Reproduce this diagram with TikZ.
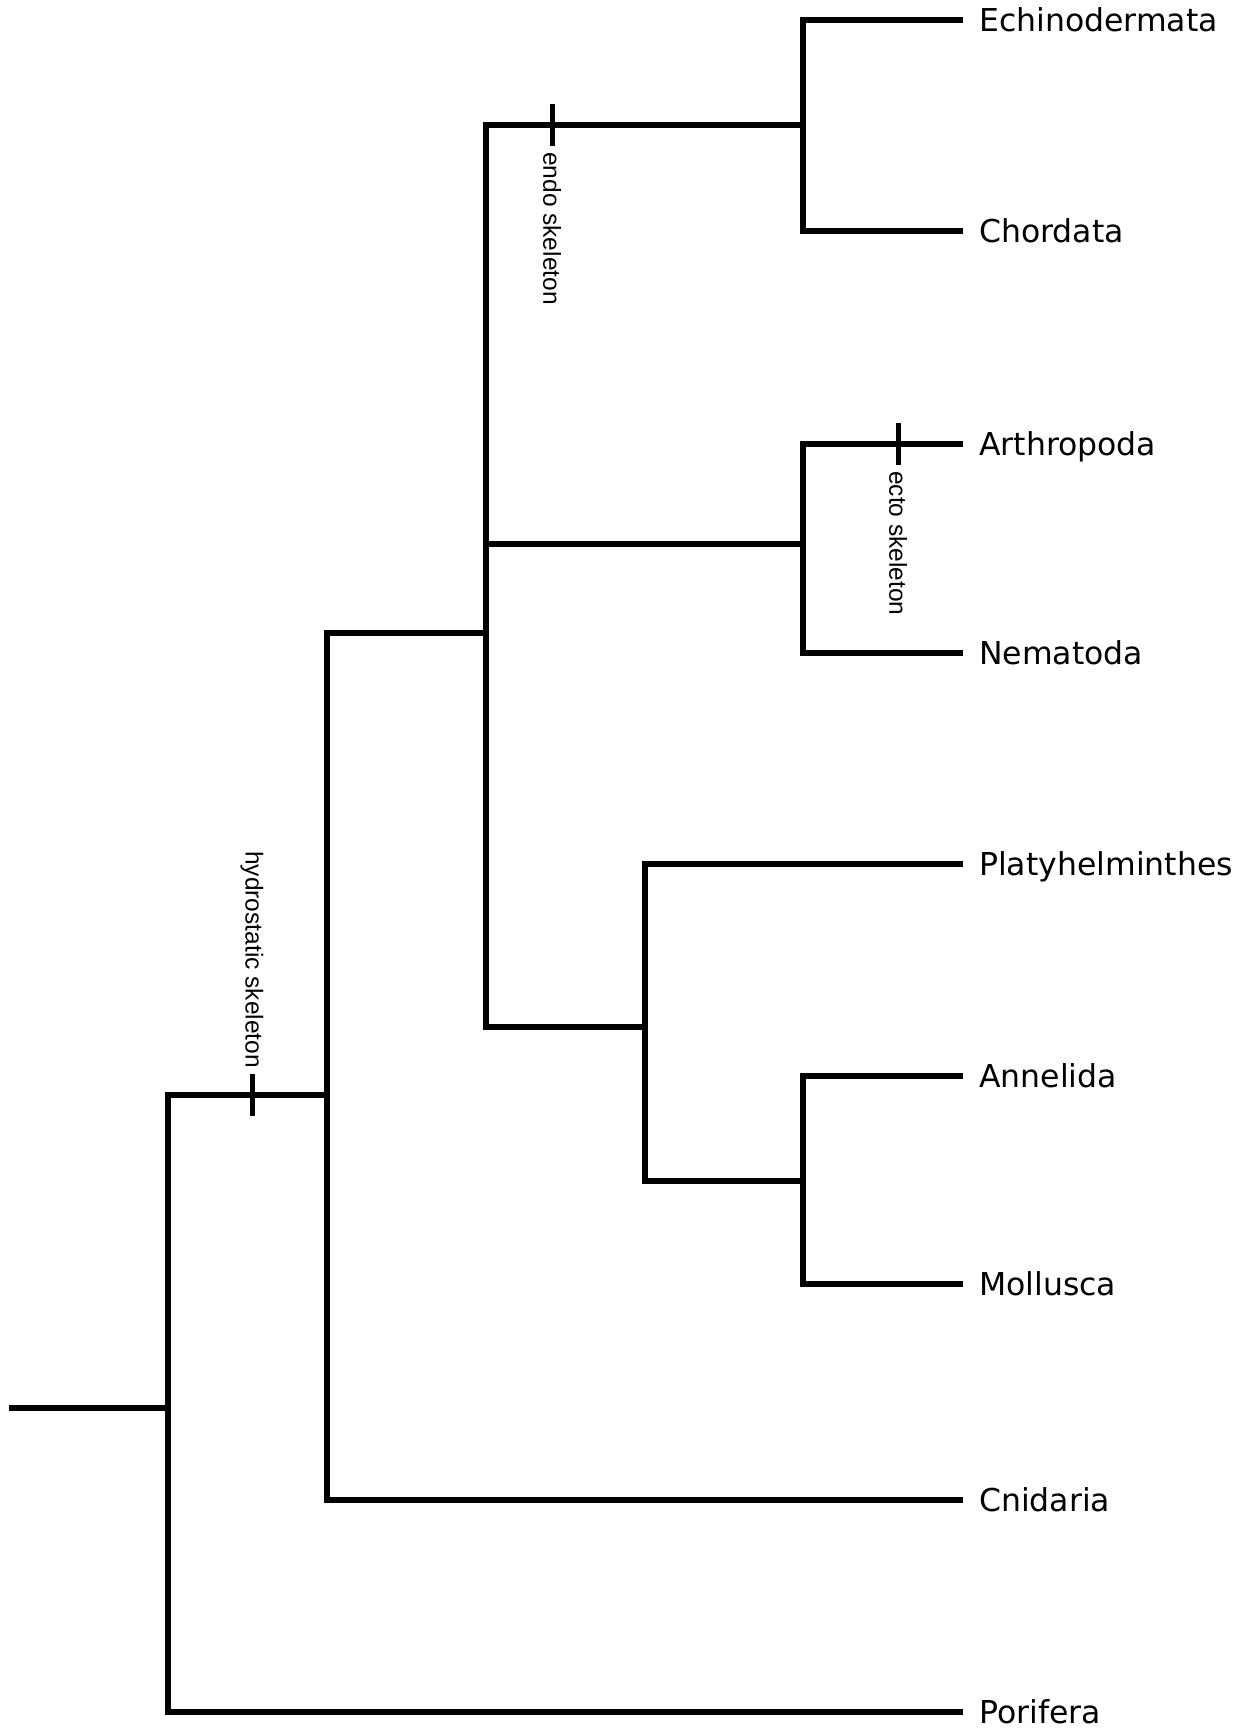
\documentclass[tikz,border=0pt]{standalone}
\usepackage{fontspec}
\setmainfont{DejaVu Sans}
\newfontfamily\notefont{Liberation Sans}
\begin{document}
\begin{tikzpicture}[x=1pt,y=-1pt,
  branch/.style={line width=5.5pt,line join=miter,line cap=butt},
  tickmark/.style={line width=5pt},
  taxon/.style={anchor=west,inner xsep=16pt,inner ysep=0pt,text height=23pt,text depth=0pt,
    font=\fontsize{31.5}{36}\selectfont},
  trait/.style={rotate=-90,inner xsep=6pt,inner ysep=0pt,font=\notefont\fontsize{24.5}{27}\selectfont}]
\useasboundingbox (0,0) rectangle (1250,1731);

% taxa (west anchor = end of the terminal branch)
\node[taxon] (echi) at (963,20)   {Echinodermata};
\node[taxon] (chor) at (963,231)  {Chordata};
\node[taxon] (arth) at (963,444)  {Arthropoda};
\node[taxon] (nema) at (963,653)  {Nematoda};
\node[taxon] (plat) at (963,864)  {Platyhelminthes};
\node[taxon] (anne) at (963,1076) {Annelida};
\node[taxon] (moll) at (963,1284) {Mollusca};
\node[taxon] (cnid) at (963,1500) {Cnidaria};
\node[taxon] (pori) at (963,1712) {Porifera};

% internal nodes
\coordinate (stem)  at (9,1408);
\coordinate (nRoot) at (168,1408);
\coordinate (nHyd)  at (327,1095);
\coordinate (nBil)  at (486,633);
\coordinate (nEC)   at (803,125);
\coordinate (nAN)   at (803,544);
\coordinate (nPAM)  at (645,1027);
\coordinate (nAM)   at (803,1181);

% branches
\draw[branch] (echi.west) -| (nEC) |- (chor.west);
\draw[branch] (arth.west) -| (nAN) |- (nema.west);
\draw[branch] (anne.west) -| (nAM) |- (moll.west);
\draw[branch] (plat.west) -| (nPAM) |- (nAM);
\draw[branch] (nEC) -| (nBil) |- (nPAM);
\draw[branch] (nAN) -- (nAN -| nBil);
\draw[branch] (nBil) -| (nHyd) |- (cnid.west);
\draw[branch] (nHyd) -| (nRoot) |- (pori.west);
\draw[branch] (stem) -- (nRoot);

% character changes
\coordinate (tEndo) at (552,125);
\coordinate (tEcto) at (898,444);
\coordinate (tHyd)  at (252,1095);
\draw[tickmark] ([yshift=21pt]tEndo) -- ([yshift=-21pt]tEndo);
\draw[tickmark] ([yshift=21pt]tEcto) -- ([yshift=-21pt]tEcto);
\draw[tickmark] ([yshift=21pt]tHyd)  -- ([yshift=-21pt]tHyd);
\node[trait,anchor=west] (lEndo) at ([yshift=-21pt]tEndo) {endo skeleton};
\node[trait,anchor=west] (lEcto) at ([yshift=-21pt]tEcto) {ecto skeleton};
\node[trait,anchor=east] (lHyd)  at ([yshift=21pt]tHyd)   {hydrostatic skeleton};
\end{tikzpicture}
\end{document}
